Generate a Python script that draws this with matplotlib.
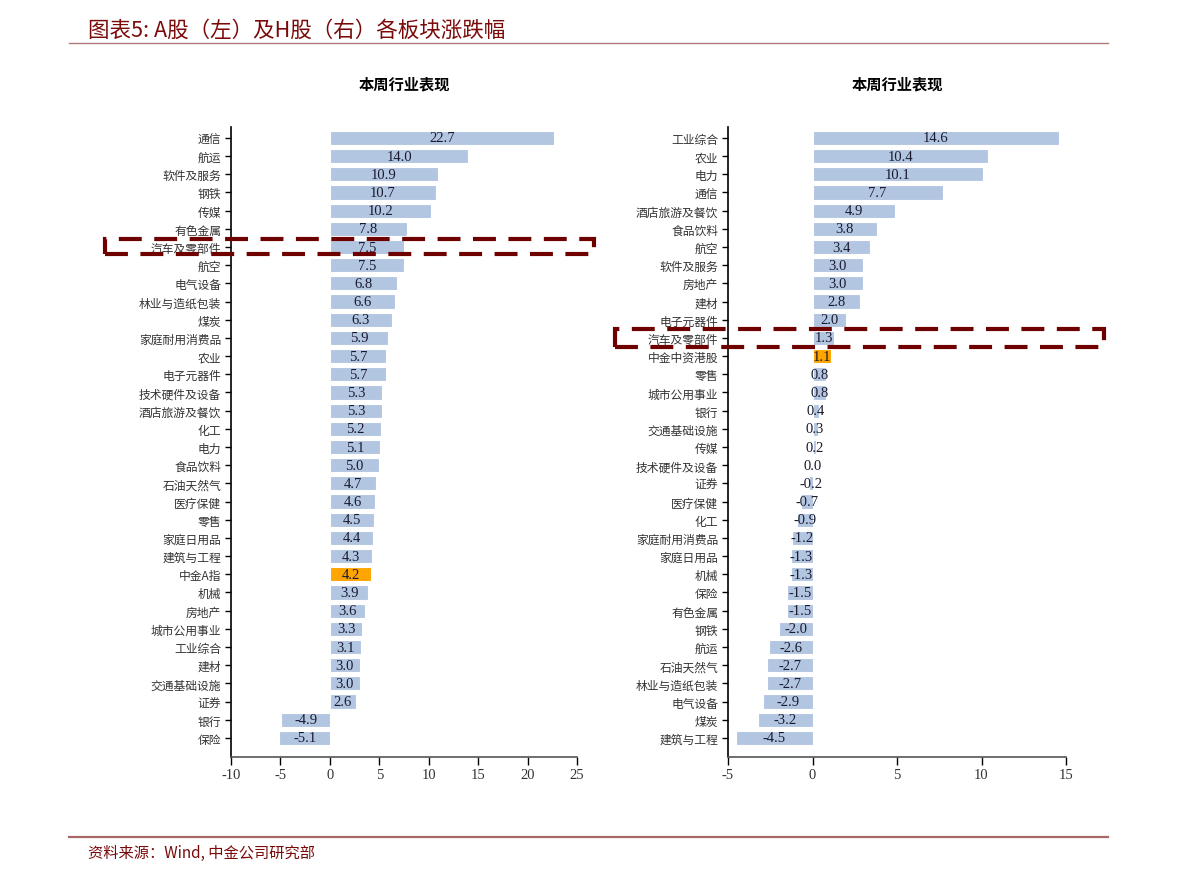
import matplotlib
matplotlib.use("Agg")
import matplotlib.pyplot as plt
from matplotlib.patches import Rectangle
from matplotlib.lines import Line2D

plt.rcParams['font.family'] = ['Noto Sans CJK SC', 'DejaVu Sans']

# A股 (左)
a_labels = ["通信", "航运", "软件及服务", "钢铁", "传媒", "有色金属", "汽车及零部件", "航空",
            "电气设备", "林业与造纸包装", "煤炭", "家庭耐用消费品", "农业", "电子元器件",
            "技术硬件及设备", "酒店旅游及餐饮", "化工", "电力", "食品饮料", "石油天然气",
            "医疗保健", "零售", "家庭日用品", "建筑与工程", "中金A指", "机械", "房地产",
            "城市公用事业", "工业综合", "建材", "交通基础设施", "证券", "银行", "保险"]
a_values = [22.7, 14.0, 10.9, 10.7, 10.2, 7.8, 7.5, 7.5, 6.8, 6.6, 6.3, 5.9, 5.7, 5.7,
            5.3, 5.3, 5.2, 5.1, 5.0, 4.7, 4.6, 4.5, 4.4, 4.3, 4.2, 3.9, 3.6, 3.3, 3.1,
            3.0, 3.0, 2.6, -4.9, -5.1]
a_ticks = [-10, -5, 0, 5, 10, 15, 20, 25]

# H股 (右)
h_labels = ["工业综合", "农业", "电力", "通信", "酒店旅游及餐饮", "食品饮料", "航空",
            "软件及服务", "房地产", "建材", "电子元器件", "汽车及零部件", "中金中资港股",
            "零售", "城市公用事业", "银行", "交通基础设施", "传媒", "技术硬件及设备", "证券",
            "医疗保健", "化工", "家庭耐用消费品", "家庭日用品", "机械", "保险", "有色金属",
            "钢铁", "航运", "石油天然气", "林业与造纸包装", "电气设备", "煤炭", "建筑与工程"]
h_values = [14.6, 10.4, 10.1, 7.7, 4.9, 3.8, 3.4, 3.0, 3.0, 2.8, 2.0, 1.3, 1.1, 0.8, 0.8,
            0.4, 0.3, 0.2, 0.0, -0.2, -0.7, -0.9, -1.2, -1.3, -1.3, -1.5, -1.5, -2.0, -2.6,
            -2.7, -2.7, -2.9, -3.2, -4.5]
h_ticks = [-5, 0, 5, 10, 15]

blue = "#b3c6e1"
orange = "#ffa500"
red = "#7a0a0a"


def draw_panel(ax, labels, values, ticks, highlight):
    colors = [orange if l == highlight else blue for l in labels]
    y = list(range(len(labels)))
    ax.barh(y, values, height=0.78, color=colors, edgecolor="white", linewidth=0.8)
    for yi, v in zip(y, values):
        ax.text(v / 2, yi, f"{v:.1f}", ha="center", va="center", fontsize=10.5,
                family="Liberation Serif", color="#1a1a2e")
    ax.set_yticks(y)
    ax.set_yticklabels(labels, fontsize=8.5, color="#333333")
    ax.set_ylim(len(labels) - 1 + 1.05, -0.6)
    ax.set_xlim(ticks[0], ticks[-1])
    ax.set_xticks(ticks)
    ax.set_xticklabels([str(t) for t in ticks], family="Liberation Serif", fontsize=10.5,
                       color="#333333")
    for s in ["top", "right"]:
        ax.spines[s].set_visible(False)
    ax.spines["left"].set_linewidth(1.2)
    ax.spines["bottom"].set_linewidth(1.2)
    ax.spines["bottom"].set_color("#555555")
    ax.tick_params(axis="y", length=4, width=1, pad=3)
    ax.tick_params(axis="x", length=6, width=1, pad=2)
    ax.set_title("本周行业表现", fontsize=11, fontweight="bold", pad=28)


fig = plt.figure(figsize=(11.91, 8.79), dpi=100)
ax1 = fig.add_axes([231 / 1191, 1 - 758 / 879, 346 / 1191, 630 / 879])
ax2 = fig.add_axes([728 / 1191, 1 - 758 / 879, 338 / 1191, 630 / 879])
draw_panel(ax1, a_labels, a_values, a_ticks, "中金A指")
draw_panel(ax2, h_labels, h_values, h_ticks, "中金中资港股")

# header and footer
fig.text(88 / 1191, 1 - 31 / 879, "图表5: A股（左）及H股（右）各板块涨跌幅", fontsize=15.5,
         color=red, va="center", style="italic", fontweight="light")
fig.add_artist(Line2D([69 / 1191, 1108 / 1191], [1 - 44 / 879, 1 - 44 / 879],
                      color="#b07878", linewidth=1))
fig.add_artist(Line2D([69 / 1191, 1108 / 1191], [1 - 838 / 879, 1 - 838 / 879],
                      color="#a86868", linewidth=1.6))
fig.text(88 / 1191, 1 - 853 / 879, "资料来源：Wind, 中金公司研究部", fontsize=11,
         color=red, va="center", style="italic", fontweight="light")

# dashed highlight boxes
for x0, y0, x1, y1 in [(105, 240, 594, 255), (615, 330, 1104, 348)]:
    fig.add_artist(Rectangle((x0 / 1191, 1 - y1 / 879), (x1 - x0) / 1191, (y1 - y0) / 879,
                             transform=fig.transFigure, fill=False, edgecolor="#6e0000",
                             linewidth=3, linestyle=(0, (5.5, 3))))

fig.savefig("out.png", dpi=100)
